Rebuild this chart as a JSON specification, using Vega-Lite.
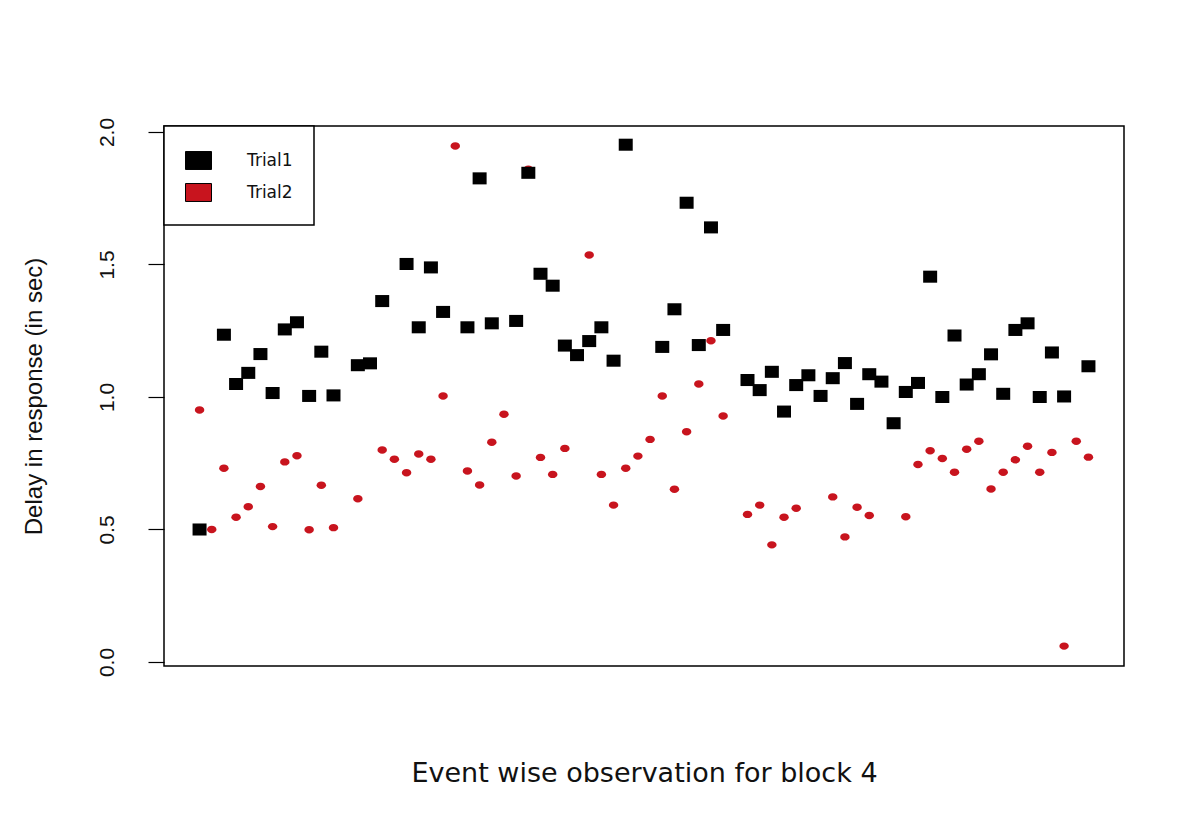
{
  "$schema": "https://vega.github.io/schema/vega-lite/v6.json",
  "width": 960,
  "height": 540,
  "autosize": {"type": "none"},
  "padding": {"left": 164, "top": 126, "right": 78, "bottom": 148},
  "background": "white",
  "config": {"view": {"stroke": "#000000", "strokeWidth": 1.5}},
  "data": {"values": [
    {"i": 1, "Series": "Trial1", "Delay": 0.50},
    {"i": 3, "Series": "Trial1", "Delay": 1.235},
    {"i": 4, "Series": "Trial1", "Delay": 1.049},
    {"i": 5, "Series": "Trial1", "Delay": 1.091},
    {"i": 6, "Series": "Trial1", "Delay": 1.162},
    {"i": 7, "Series": "Trial1", "Delay": 1.015},
    {"i": 8, "Series": "Trial1", "Delay": 1.255},
    {"i": 9, "Series": "Trial1", "Delay": 1.282},
    {"i": 10, "Series": "Trial1", "Delay": 1.004},
    {"i": 11, "Series": "Trial1", "Delay": 1.171},
    {"i": 12, "Series": "Trial1", "Delay": 1.006},
    {"i": 14, "Series": "Trial1", "Delay": 1.12},
    {"i": 15, "Series": "Trial1", "Delay": 1.127},
    {"i": 16, "Series": "Trial1", "Delay": 1.362},
    {"i": 18, "Series": "Trial1", "Delay": 1.502},
    {"i": 19, "Series": "Trial1", "Delay": 1.263},
    {"i": 20, "Series": "Trial1", "Delay": 1.489},
    {"i": 21, "Series": "Trial1", "Delay": 1.321},
    {"i": 23, "Series": "Trial1", "Delay": 1.263},
    {"i": 24, "Series": "Trial1", "Delay": 1.825},
    {"i": 25, "Series": "Trial1", "Delay": 1.278},
    {"i": 27, "Series": "Trial1", "Delay": 1.287},
    {"i": 28, "Series": "Trial1", "Delay": 1.846},
    {"i": 29, "Series": "Trial1", "Delay": 1.465},
    {"i": 30, "Series": "Trial1", "Delay": 1.42},
    {"i": 31, "Series": "Trial1", "Delay": 1.194},
    {"i": 32, "Series": "Trial1", "Delay": 1.158},
    {"i": 33, "Series": "Trial1", "Delay": 1.211},
    {"i": 34, "Series": "Trial1", "Delay": 1.263},
    {"i": 35, "Series": "Trial1", "Delay": 1.137},
    {"i": 36, "Series": "Trial1", "Delay": 1.952},
    {"i": 39, "Series": "Trial1", "Delay": 1.189},
    {"i": 40, "Series": "Trial1", "Delay": 1.331},
    {"i": 41, "Series": "Trial1", "Delay": 1.733},
    {"i": 42, "Series": "Trial1", "Delay": 1.196},
    {"i": 43, "Series": "Trial1", "Delay": 1.640},
    {"i": 44, "Series": "Trial1", "Delay": 1.253},
    {"i": 46, "Series": "Trial1", "Delay": 1.064},
    {"i": 47, "Series": "Trial1", "Delay": 1.026},
    {"i": 48, "Series": "Trial1", "Delay": 1.095},
    {"i": 49, "Series": "Trial1", "Delay": 0.945},
    {"i": 50, "Series": "Trial1", "Delay": 1.045},
    {"i": 51, "Series": "Trial1", "Delay": 1.082},
    {"i": 52, "Series": "Trial1", "Delay": 1.004},
    {"i": 53, "Series": "Trial1", "Delay": 1.071},
    {"i": 54, "Series": "Trial1", "Delay": 1.128},
    {"i": 55, "Series": "Trial1", "Delay": 0.974},
    {"i": 56, "Series": "Trial1", "Delay": 1.086},
    {"i": 57, "Series": "Trial1", "Delay": 1.058},
    {"i": 58, "Series": "Trial1", "Delay": 0.901},
    {"i": 59, "Series": "Trial1", "Delay": 1.019},
    {"i": 60, "Series": "Trial1", "Delay": 1.053},
    {"i": 61, "Series": "Trial1", "Delay": 1.454},
    {"i": 62, "Series": "Trial1", "Delay": 1.0},
    {"i": 63, "Series": "Trial1", "Delay": 1.232},
    {"i": 64, "Series": "Trial1", "Delay": 1.047},
    {"i": 65, "Series": "Trial1", "Delay": 1.086},
    {"i": 66, "Series": "Trial1", "Delay": 1.161},
    {"i": 67, "Series": "Trial1", "Delay": 1.012},
    {"i": 68, "Series": "Trial1", "Delay": 1.253},
    {"i": 69, "Series": "Trial1", "Delay": 1.278},
    {"i": 70, "Series": "Trial1", "Delay": 1.0},
    {"i": 71, "Series": "Trial1", "Delay": 1.168},
    {"i": 72, "Series": "Trial1", "Delay": 1.002},
    {"i": 74, "Series": "Trial1", "Delay": 1.116},
    {"i": 1, "Series": "Trial2", "Delay": 0.951},
    {"i": 2, "Series": "Trial2", "Delay": 0.50},
    {"i": 3, "Series": "Trial2", "Delay": 0.731},
    {"i": 4, "Series": "Trial2", "Delay": 0.546},
    {"i": 5, "Series": "Trial2", "Delay": 0.586},
    {"i": 6, "Series": "Trial2", "Delay": 0.662},
    {"i": 7, "Series": "Trial2", "Delay": 0.511},
    {"i": 8, "Series": "Trial2", "Delay": 0.755},
    {"i": 9, "Series": "Trial2", "Delay": 0.778},
    {"i": 10, "Series": "Trial2", "Delay": 0.499},
    {"i": 11, "Series": "Trial2", "Delay": 0.667},
    {"i": 12, "Series": "Trial2", "Delay": 0.507},
    {"i": 14, "Series": "Trial2", "Delay": 0.616},
    {"i": 16, "Series": "Trial2", "Delay": 0.80},
    {"i": 17, "Series": "Trial2", "Delay": 0.765},
    {"i": 18, "Series": "Trial2", "Delay": 0.714},
    {"i": 19, "Series": "Trial2", "Delay": 0.785},
    {"i": 20, "Series": "Trial2", "Delay": 0.765},
    {"i": 21, "Series": "Trial2", "Delay": 1.004},
    {"i": 22, "Series": "Trial2", "Delay": 1.947},
    {"i": 23, "Series": "Trial2", "Delay": 0.721},
    {"i": 24, "Series": "Trial2", "Delay": 0.668},
    {"i": 25, "Series": "Trial2", "Delay": 0.829},
    {"i": 26, "Series": "Trial2", "Delay": 0.935},
    {"i": 27, "Series": "Trial2", "Delay": 0.702},
    {"i": 28, "Series": "Trial2", "Delay": 1.86},
    {"i": 29, "Series": "Trial2", "Delay": 0.772},
    {"i": 30, "Series": "Trial2", "Delay": 0.708},
    {"i": 31, "Series": "Trial2", "Delay": 0.806},
    {"i": 33, "Series": "Trial2", "Delay": 1.536},
    {"i": 34, "Series": "Trial2", "Delay": 0.708},
    {"i": 35, "Series": "Trial2", "Delay": 0.592},
    {"i": 36, "Series": "Trial2", "Delay": 0.731},
    {"i": 37, "Series": "Trial2", "Delay": 0.777},
    {"i": 38, "Series": "Trial2", "Delay": 0.840},
    {"i": 39, "Series": "Trial2", "Delay": 1.004},
    {"i": 40, "Series": "Trial2", "Delay": 0.652},
    {"i": 41, "Series": "Trial2", "Delay": 0.869},
    {"i": 42, "Series": "Trial2", "Delay": 1.049},
    {"i": 43, "Series": "Trial2", "Delay": 1.212},
    {"i": 44, "Series": "Trial2", "Delay": 0.928},
    {"i": 46, "Series": "Trial2", "Delay": 0.557},
    {"i": 47, "Series": "Trial2", "Delay": 0.592},
    {"i": 48, "Series": "Trial2", "Delay": 0.442},
    {"i": 49, "Series": "Trial2", "Delay": 0.546},
    {"i": 50, "Series": "Trial2", "Delay": 0.58},
    {"i": 53, "Series": "Trial2", "Delay": 0.623},
    {"i": 54, "Series": "Trial2", "Delay": 0.472},
    {"i": 55, "Series": "Trial2", "Delay": 0.584},
    {"i": 56, "Series": "Trial2", "Delay": 0.553},
    {"i": 59, "Series": "Trial2", "Delay": 0.548},
    {"i": 60, "Series": "Trial2", "Delay": 0.745},
    {"i": 61, "Series": "Trial2", "Delay": 0.797},
    {"i": 62, "Series": "Trial2", "Delay": 0.768},
    {"i": 63, "Series": "Trial2", "Delay": 0.716},
    {"i": 64, "Series": "Trial2", "Delay": 0.803},
    {"i": 65, "Series": "Trial2", "Delay": 0.833},
    {"i": 66, "Series": "Trial2", "Delay": 0.653},
    {"i": 67, "Series": "Trial2", "Delay": 0.716},
    {"i": 68, "Series": "Trial2", "Delay": 0.763},
    {"i": 69, "Series": "Trial2", "Delay": 0.814},
    {"i": 70, "Series": "Trial2", "Delay": 0.716},
    {"i": 71, "Series": "Trial2", "Delay": 0.791},
    {"i": 72, "Series": "Trial2", "Delay": 0.06},
    {"i": 73, "Series": "Trial2", "Delay": 0.833},
    {"i": 74, "Series": "Trial2", "Delay": 0.773}
  ]},
  "encoding": {
    "x": {
      "field": "i", "type": "quantitative",
      "scale": {"domain": [-1.92, 76.92], "nice": false, "zero": false},
      "axis": {
        "title": "Event wise observation for block 4",
        "labels": false, "ticks": false, "domain": false, "grid": false,
        "titleFont": "DejaVu Sans", "titleFontSize": 27, "titleFontWeight": "normal",
        "titleColor": "#111111", "titlePadding": 94
      }
    },
    "y": {
      "field": "Delay", "type": "quantitative",
      "scale": {"domain": [-0.0151, 2.0226], "nice": false, "zero": false},
      "axis": {
        "title": "Delay in response (in sec)",
        "values": [0, 0.5, 1, 1.5, 2], "format": ".1f",
        "grid": false, "domain": false,
        "tickColor": "#000000", "tickSize": 16, "tickWidth": 1.2,
        "labelAngle": -90, "labelAlign": "center", "labelBaseline": "alphabetic",
        "labelPadding": 35, "labelFont": "Liberation Sans", "labelFontSize": 21,
        "labelColor": "#111111",
        "titleFont": "Liberation Sans", "titleFontSize": 24, "titleFontWeight": "normal",
        "titlePadding": 50, "titleColor": "#111111"
      }
    },
    "color": {
      "field": "Series", "type": "nominal",
      "scale": {"domain": ["Trial1", "Trial2"], "range": ["#000000", "#c8141e"]},
      "legend": {
        "title": null, "orient": "none", "legendX": 0, "legendY": 0,
        "strokeColor": "#000000", "fillColor": "#ffffff", "padding": 21,
        "symbolType": "M-1,-0.69H1V0.69H-1Z", "symbolSize": 676,
        "symbolStrokeColor": "#000000", "symbolStrokeWidth": 1, "symbolOpacity": 1,
        "labelFont": "DejaVu Sans", "labelFontSize": 17, "labelOffset": 35,
        "labelColor": "#111111", "rowPadding": 7,
        "encode": {
          "symbols": {
            "enter": {
              "fill": {"signal": "datum.value === 'Trial2' ? '#ff0000' : '#000000'"},
              "stroke": {"value": "#000000"},
              "strokeWidth": {"value": 1}
            },
            "update": {
              "fill": {"signal": "datum.value === 'Trial2' ? '#ff0000' : '#000000'"},
              "stroke": {"value": "#000000"},
              "strokeWidth": {"value": 1}
            }
          },
          "legend": {"update": {"strokeWidth": {"value": 1.5}}}
        }
      }
    }
  },
  "layer": [
    {
      "transform": [{"filter": "datum.Series === 'Trial2'"}],
      "mark": {"type": "point", "filled": true, "opacity": 1, "strokeWidth": 0,
               "shape": "M-1,0A1,0.78,0,1,0,1,0A1,0.78,0,1,0,-1,0Z", "size": 90}
    },
    {
      "transform": [{"filter": "datum.Series === 'Trial1'"}],
      "mark": {"type": "point", "filled": true, "opacity": 1, "strokeWidth": 0,
               "shape": "M-1,-0.86H1V0.86H-1Z", "size": 196}
    }
  ]
}
